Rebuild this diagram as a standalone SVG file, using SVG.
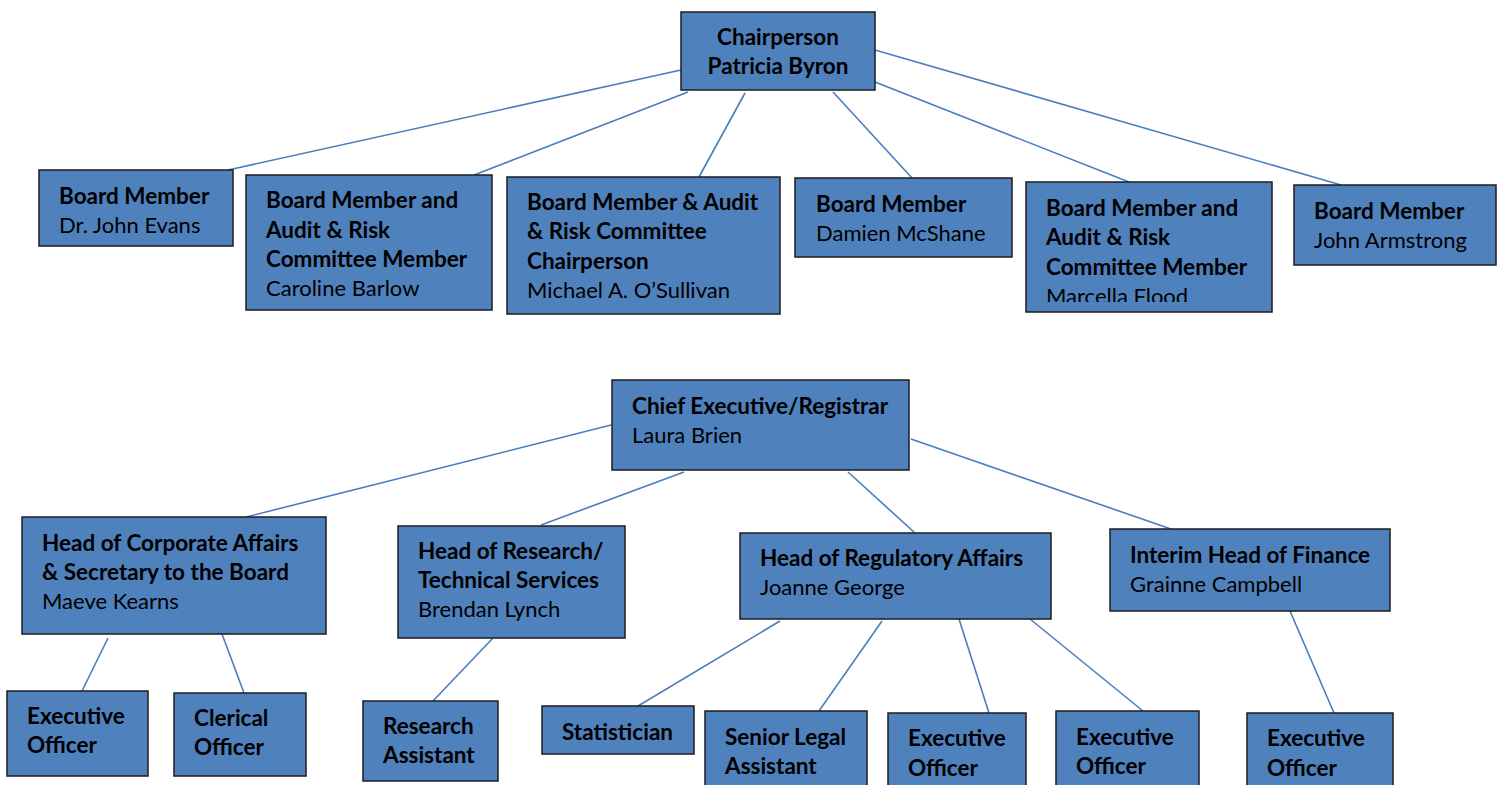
<svg xmlns="http://www.w3.org/2000/svg" width="1502" height="785" viewBox="0 0 1502 785">
<style>
.box{fill:#4F81BD;stroke:#1c1c1c;stroke-width:1.5}
.ln{stroke:#4A7EBB;stroke-width:1.6;fill:none}
text{font-family:Lato,"Open Sans","Liberation Sans",sans-serif;font-size:22px;fill:#000}
.b{font-weight:bold;font-size:22.5px}
</style>
<defs>
<clipPath id="clipM"><rect x="1026" y="182" width="246" height="120"/></clipPath>
</defs>
<rect width="1502" height="785" fill="#fff"/>
<g id="connectors">
<line class="ln" x1="681" y1="70" x2="228" y2="170"/>
<line class="ln" x1="688" y1="92" x2="474" y2="175"/>
<line class="ln" x1="745" y1="93" x2="699" y2="177"/>
<line class="ln" x1="833" y1="92" x2="912" y2="178"/>
<line class="ln" x1="875" y1="82" x2="1129" y2="182"/>
<line class="ln" x1="875" y1="50" x2="1341" y2="185"/>
<line class="ln" x1="611" y1="425" x2="246" y2="517"/>
<line class="ln" x1="684" y1="472" x2="541" y2="525"/>
<line class="ln" x1="848" y1="472" x2="915" y2="533"/>
<line class="ln" x1="911" y1="439" x2="1171" y2="529"/>
<line class="ln" x1="108" y1="638" x2="82" y2="691"/>
<line class="ln" x1="222" y1="634" x2="244" y2="693"/>
<line class="ln" x1="493" y1="638" x2="433" y2="701"/>
<line class="ln" x1="780" y1="621" x2="638" y2="706"/>
<line class="ln" x1="882" y1="621" x2="819" y2="711"/>
<line class="ln" x1="959" y1="619" x2="989" y2="713"/>
<line class="ln" x1="1030" y1="619" x2="1143" y2="711"/>
<line class="ln" x1="1290" y1="611" x2="1334" y2="713"/>
</g>
<g id="chair"><rect class="box" x="681" y="12" width="194" height="78"/>
<text class="b" x="778" y="45" text-anchor="middle">Chairperson</text>
<text class="b" x="778" y="74" text-anchor="middle">Patricia Byron</text></g>
<g id="evans"><rect class="box" x="39" y="170" width="194" height="76"/>
<text class="b" x="59" y="204">Board Member</text><text x="59" y="233">Dr. John Evans</text></g>
<g id="barlow"><rect class="box" x="246" y="175" width="246" height="135"/>
<text class="b" x="266" y="208">Board Member and</text><text class="b" x="266" y="238">Audit &amp; Risk</text><text class="b" x="266" y="267">Committee Member</text><text x="266" y="296">Caroline Barlow</text></g>
<g id="osullivan"><rect class="box" x="507" y="177" width="273" height="137"/>
<text class="b" x="527" y="210">Board Member &amp; Audit</text><text class="b" x="527" y="239">&amp; Risk Committee</text><text class="b" x="527" y="269">Chairperson</text><text x="527" y="298">Michael A. O’Sullivan</text></g>
<g id="mcshane"><rect class="box" x="795" y="178" width="217" height="79"/>
<text class="b" x="816" y="212">Board Member</text><text x="816" y="241">Damien McShane</text></g>
<g id="flood"><rect class="box" x="1026" y="182" width="246" height="130"/>
<text class="b" x="1046" y="216">Board Member and</text><text class="b" x="1046" y="245">Audit &amp; Risk</text><text class="b" x="1046" y="275">Committee Member</text><text x="1046" y="304" clip-path="url(#clipM)">Marcella Flood</text></g>
<g id="armstrong"><rect class="box" x="1294" y="185" width="202" height="80"/>
<text class="b" x="1314" y="219">Board Member</text><text x="1314" y="248">John Armstrong</text></g>
<g id="ceo"><rect class="box" x="612" y="380" width="297" height="90"/>
<text class="b" x="632" y="414">Chief Executive/Registrar</text><text x="632" y="443">Laura Brien</text></g>
<g id="corporate"><rect class="box" x="22" y="517" width="304" height="117"/>
<text class="b" x="42" y="551">Head of Corporate Affairs</text><text class="b" x="42" y="580">&amp; Secretary to the Board</text><text x="42" y="609">Maeve Kearns</text></g>
<g id="research"><rect class="box" x="398" y="526" width="227" height="112"/>
<text class="b" x="418" y="559">Head of Research/</text><text class="b" x="418" y="588">Technical Services</text><text x="418" y="617">Brendan Lynch</text></g>
<g id="regulatory"><rect class="box" x="740" y="533" width="311" height="86"/>
<text class="b" x="760" y="566">Head of Regulatory Affairs</text><text x="760" y="595">Joanne George</text></g>
<g id="finance"><rect class="box" x="1110" y="529" width="280" height="82"/>
<text class="b" x="1130" y="563">Interim Head of Finance</text><text x="1130" y="592">Grainne Campbell</text></g>
<g id="exec1"><rect class="box" x="7" y="691" width="141" height="85"/>
<text class="b" x="27" y="724">Executive</text><text class="b" x="27" y="753">Officer</text></g>
<g id="clerical"><rect class="box" x="174" y="693" width="132" height="83"/>
<text class="b" x="194" y="726">Clerical</text><text class="b" x="194" y="755">Officer</text></g>
<g id="ra"><rect class="box" x="363" y="701" width="135" height="80"/>
<text class="b" x="383" y="734">Research</text><text class="b" x="383" y="763">Assistant</text></g>
<g id="stat"><rect class="box" x="542" y="706" width="152" height="48"/>
<text class="b" x="562" y="740">Statistician</text></g>
<g id="sla"><rect class="box" x="705" y="711" width="162" height="80"/>
<text class="b" x="725" y="745">Senior Legal</text><text class="b" x="725" y="774">Assistant</text></g>
<g id="exec2"><rect class="box" x="888" y="713" width="138" height="80"/>
<text class="b" x="908" y="746">Executive</text><text class="b" x="908" y="776">Officer</text></g>
<g id="exec3"><rect class="box" x="1056" y="711" width="143" height="80"/>
<text class="b" x="1076" y="745">Executive</text><text class="b" x="1076" y="774">Officer</text></g>
<g id="exec4"><rect class="box" x="1247" y="713" width="146" height="80"/>
<text class="b" x="1267" y="746">Executive</text><text class="b" x="1267" y="776">Officer</text></g>
</svg>
